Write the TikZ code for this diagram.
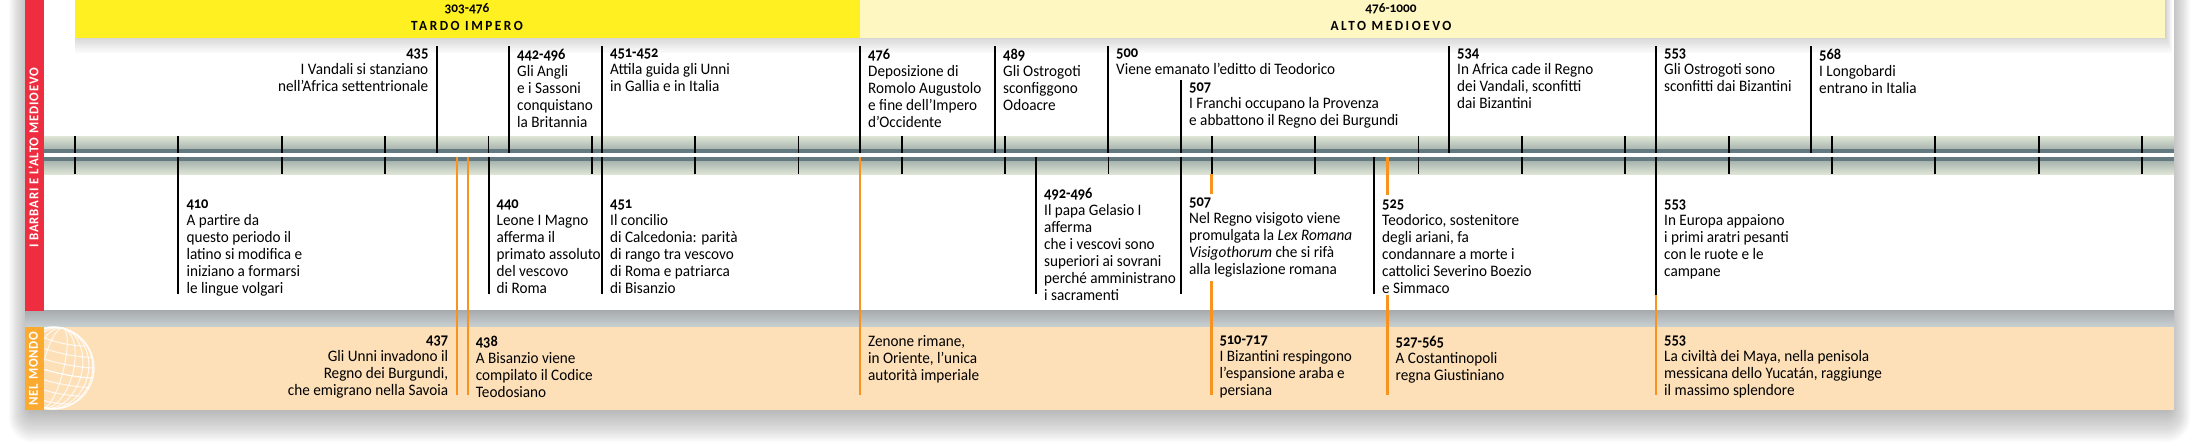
\documentclass[tikz,border=0pt]{standalone}
\usepackage{fontspec}
\setmainfont[Numbers=OldStyle, FakeStretch=0.95]{Carlito}
\definecolor{redbar}{HTML}{EE2E40}
\definecolor{orangebar}{HTML}{FBA92F}
\definecolor{orangeband}{HTML}{FDE0B8}
\definecolor{orangeline}{HTML}{F7931E}
\definecolor{yellowhead}{HTML}{FFF022}
\definecolor{yellowpale}{HTML}{FFF7C2}
\definecolor{railsoft}{HTML}{DFE6D6}
\definecolor{railmid}{HTML}{A9B5B0}
\definecolor{raildark}{HTML}{637A80}
\definecolor{gaptop}{HTML}{A8ACAF}
\definecolor{gapbot}{HTML}{C8D0D2}
\newcommand{\evfont}{\fontsize{16}{17}\selectfont}
\newcommand{\yr}[1]{{\bfseries\addfontfeatures{FakeStretch=0.9}#1}}
\tikzset{
	evtext/.style={anchor=north west, align=left, inner sep=0pt, xshift=8pt, yshift=-2.5pt, font=\evfont, execute at begin node=\strut},
	evtextr/.style={anchor=north east, align=right, inner sep=0pt, xshift=-8pt, yshift=-2.5pt, font=\evfont, execute at begin node=\strut},
	stem/.style={line width=2pt, black},
	stemo/.style={line width=2.2pt, orangeline},
	tick/.style={line width=1.8pt, black},
	headtext/.style={inner sep=0pt, font=\fontsize{14}{15}\selectfont\bfseries},
	sidetext/.style={inner sep=0pt, rotate=90, white, font=\fontsize{13.5}{15}\selectfont\bfseries}
}
\begin{document}
\begin{tikzpicture}[x=1pt, y=-1pt]
	\useasboundingbox (0,0) rectangle (2199,447);
	% soft shadow round the panel
	\foreach \k in {1,...,24}{
		\fill[black, opacity=0.016, rounded corners=\k pt] (33-\k,-20) rectangle (2166+\k,404+\k*1.6);
	}
	\fill[white] (25,0) rectangle (2174,310.7);
	% shadow under the header
	\foreach \k in {1,...,12}{
		\fill[black, opacity=0.016] (74.6,0) rectangle (2165+\k*0.6,34+\k*1.6);
	}
	\fill[yellowhead] (74.6,0) rectangle (860,37.7);
	\fill[yellowpale] (860,0) rectangle (2165,37.7);
	\node[headtext] (h1) at (467,9) {303-476};
	\node[headtext] (h2) at (467,26) {\addfontfeatures{LetterSpace=18}TARDO IMPERO};
	\node[headtext] (h3) at (1391,9) {476-1000};
	\node[headtext] (h4) at (1391,26) {\addfontfeatures{LetterSpace=18}ALTO MEDIOEVO};
	% bands
	\shade[top color=gaptop, bottom color=gapbot] (25,310.7) rectangle (2174,326.7);
	\fill[orangeband] (44,326.7) rectangle (2174,410);
	\fill[redbar] (25,0) rectangle (44,310.7);
	\fill[orangebar] (25,326.7) rectangle (44,410);
	\node[sidetext] (s1) at (33.5,158) {\addfontfeatures{LetterSpace=6}I BARBARI E L’ALTO MEDIOEVO};
	\node[sidetext] (s2) at (33.5,368.5) {\addfontfeatures{LetterSpace=6}NEL MONDO};
	% globe
	\begin{scope}
		\clip (44,326.7) rectangle (100,410);
		\begin{scope}[shift={(53,368)}, rotate=-14, white, line width=1pt, opacity=0.8]
			\draw[line width=1.4pt] (0,0) circle (41pt);
			\foreach \r in {10.6,20.5,29,35.5,39.6}{
				\draw (0,0) ellipse (\r pt and 41pt);
			}
			\foreach \h/\w in {0/41,10/39.8,20/35.8,30/28}{
				\draw (-\w,\h) .. controls (-\w*0.5,\h+5) and (\w*0.5,\h+5) .. (\w,\h);
				\draw (-\w,-\h) .. controls (-\w*0.5,-\h+5) and (\w*0.5,-\h+5) .. (\w,-\h);
			}
		\end{scope}
	\end{scope}
	% rails
	\shade[top color=railsoft, bottom color=railmid] (44,136) rectangle (2174,148.7);
	\fill[raildark] (44,148.7) rectangle (2174,153.3);
	\fill[raildark] (44,156.7) rectangle (2174,161.3);
	\shade[top color=railmid, bottom color=railsoft] (44,161.3) rectangle (2174,174.3);
	\foreach \i in {0,...,20}{
		\coordinate (ta\i) at (75+103.35*\i,136);
		\coordinate (tb\i) at (75+103.35*\i,153.3);
		\coordinate (tc\i) at (75+103.35*\i,156.7);
		\coordinate (td\i) at (75+103.35*\i,174.3);
		\draw[tick] (ta\i) -- (tb\i);
		\draw[tick] (tc\i) -- (td\i);
	}
	% black stems
	\foreach \nm/\x/\ya/\yb in {u435/436.5/46/153.3, u442/509/46/153.3, u451/602/46/153.3, u476/860/46/153.3,
		u489/995/46/153.3, u500/1108/46/153.3, u507/1181/80/153.3, u534/1449/46/153.3, u553/1656/46/153.3, u568/1811/46/153.3,
		d410/178.4/156.7/294.3, d440/488.5/156.7/294.3, d451/602/156.7/294.3, d492/1036/156.7/294.3,
		d507/1181/156.7/294.3, d525/1374/156.7/294.3, d553/1656/156.7/295}{
		\coordinate (\nm a) at (\x,\ya);
		\coordinate (\nm b) at (\x,\yb);
		\draw[stem] (\nm a) -- (\nm b);
	}
	% orange stems
	\foreach \nm/\x/\ya/\yb in {o437/457/156.7/395.3, o438/467.7/156.7/395.3, o476/860/156.7/395.3, o510a/1211.4/174.3/194,
		o510/1211.4/281.3/395.3, o527a/1387.5/156.7/194.7, o527/1387.5/295/395.3, o553/1656/295/395.3}{
		\coordinate (\nm a) at (\x,\ya);
		\coordinate (\nm b) at (\x,\yb);
		\draw[stemo] (\nm a) -- (\nm b);
	}
	% upper row
	\node[evtextr] (n435) at (u435a) {\yr{435}\\I Vandali si stanziano\\nell’Africa settentrionale};
	\node[evtext] (n442) at (u442a) {\yr{442-496}\\Gli Angli\\e i Sassoni\\conquistano\\la Britannia};
	\node[evtext] (n451) at (u451a) {\yr{451-452}\\Attila guida gli Unni\\in Gallia e in Italia};
	\node[evtext] (n476) at (u476a) {\yr{476}\\Deposizione di\\Romolo Augustolo\\e fine dell’Impero\\d’Occidente};
	\node[evtext] (n489) at (u489a) {\yr{489}\\Gli Ostrogoti\\sconfiggono\\Odoacre};
	\node[evtext] (n500) at (u500a) {\yr{500}\\Viene emanato l’editto di Teodorico};
	\node[evtext] (n507) at (u507a) {\yr{507}\\I Franchi occupano la Provenza\\e abbattono il Regno dei Burgundi};
	\node[evtext] (n534) at (u534a) {\yr{534}\\In Africa cade il Regno\\dei Vandali, sconfitti\\dai Bizantini};
	\node[evtext] (n553) at (u553a) {\yr{553}\\Gli Ostrogoti sono\\sconfitti dai Bizantini};
	\node[evtext] (n568) at (u568a) {\yr{568}\\I Longobardi\\entrano in Italia};
	% lower row
	\node[evtext] (m410) at (178.4,197) {\yr{410}\\A partire da\\questo periodo il\\latino si modifica e\\iniziano a formarsi\\le lingue volgari};
	\node[evtext] (m440) at (488.5,197) {\yr{440}\\Leone I Magno\\afferma il\\primato assoluto\\del vescovo\\di Roma};
	\node[evtext] (m451) at (602,197) {\yr{451}\\Il concilio\\di Calcedonia: parità\\di rango tra vescovo\\di Roma e patriarca\\di Bisanzio};
	\node[evtext] (m492) at (1036,185) {\yr{492-496}\\Il papa Gelasio I\\afferma\\che i vescovi sono\\superiori ai sovrani\\perché amministrano\\i sacramenti};
	\node[evtext] (m507) at (1181,195) {\yr{507}\\Nel Regno visigoto viene\\promulgata la \textit{Lex Romana}\\\textit{Visigothorum} che si rifà\\alla legislazione romana};
	\node[evtext] (m525) at (1374,197) {\yr{525}\\Teodorico, sostenitore\\degli ariani, fa\\condannare a morte i\\cattolici Severino Boezio\\e Simmaco};
	\node[evtext] (m553) at (1656,197) {\yr{553}\\In Europa appaiono\\i primi aratri pesanti\\con le ruote e le\\campane};
	% world row
	\node[evtextr, xshift=-0.7pt] (w437) at (457,333) {\yr{437}\\Gli Unni invadono il\\Regno dei Burgundi,\\che emigrano nella Savoia};
	\node[evtext] (w438) at (467.7,333) {\yr{438}\\A Bisanzio viene\\compilato il Codice\\Teodosiano};
	\node[evtext] (w476) at (860,333) {Zenone rimane,\\in Oriente, l’unica\\autorità imperiale};
	\node[evtext] (w510) at (1211.4,333) {\yr{510-717}\\I Bizantini respingono\\l’espansione araba e\\persiana};
	\node[evtext] (w527) at (1387.5,333) {\yr{527-565}\\A Costantinopoli\\regna Giustiniano};
	\node[evtext] (w553) at (1656,333) {\yr{553}\\La civiltà dei Maya, nella penisola\\messicana dello Yucatán, raggiunge\\il massimo splendore};
\end{tikzpicture}
\end{document}
